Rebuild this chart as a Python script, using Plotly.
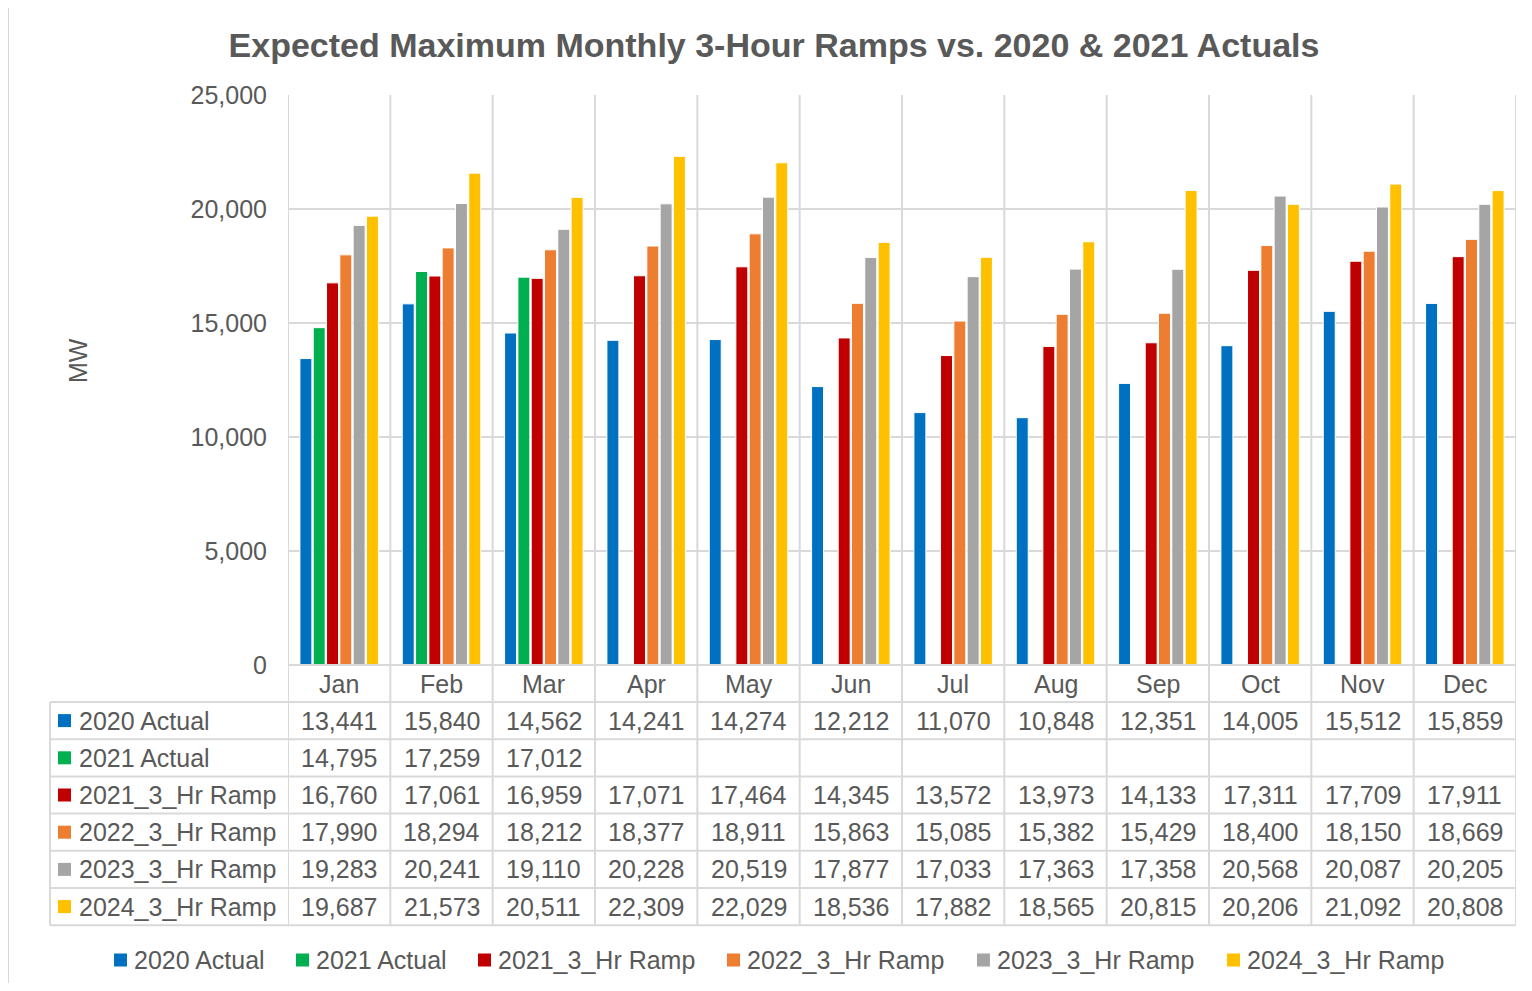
import plotly.graph_objects as go

months = ["Jan", "Feb", "Mar", "Apr", "May", "Jun", "Jul", "Aug", "Sep", "Oct", "Nov", "Dec"]
actual_2020 = [13441, 15840, 14562, 14241, 14274, 12212, 11070, 10848, 12351, 14005, 15512, 15859]
actual_2021 = [14795, 17259, 17012, None, None, None, None, None, None, None, None, None]
ramp_2021 = [16760, 17061, 16959, 17071, 17464, 14345, 13572, 13973, 14133, 17311, 17709, 17911]
ramp_2022 = [17990, 18294, 18212, 18377, 18911, 15863, 15085, 15382, 15429, 18400, 18150, 18669]
ramp_2023 = [19283, 20241, 19110, 20228, 20519, 17877, 17033, 17363, 17358, 20568, 20087, 20205]
ramp_2024 = [19687, 21573, 20511, 22309, 22029, 18536, 17882, 18565, 20815, 20206, 21092, 20808]

series_names = ["2020 Actual", "2021 Actual", "2021_3_Hr Ramp", "2022_3_Hr Ramp", "2023_3_Hr Ramp", "2024_3_Hr Ramp"]
series_values = [actual_2020, actual_2021, ramp_2021, ramp_2022, ramp_2023, ramp_2024]
colors = ["#0070C0", "#00B050", "#C00000", "#ED7D31", "#A5A5A5", "#FFC000"]

FONT = "Liberation Sans, Arial, sans-serif"
TXT = "#595959"
GRID = "#D9D9D9"

# page offset (body margin) and target page geometry
OFF = 8
FIG_W, FIG_H = 1532 - 2 * OFF, 991 - 2 * OFF
L, R, T, B = 288, 1516, 95, 665   # plot area in page pixels
W, H = R - L, B - T

def px(x):
    return (x - L) / W

def py(y):
    return (B - y) / H

fig = go.Figure()
for name, vals, col in zip(series_names, series_values, colors):
    fig.add_trace(go.Bar(x=months, y=vals, name=name, showlegend=False,
                         marker=dict(color=col, line=dict(color="white", width=1))))

shapes = []
annotations = []
row_top = 702
row_h = 37.2
n_rows = len(series_names)
table_bottom = row_top + row_h * n_rows

# vertical lines at category boundaries (plot + table)
for i in range(len(months) + 1):
    shapes.append(dict(type="line", xref="x", yref="paper", x0=i - 0.5, x1=i - 0.5,
                       y0=py(table_bottom), y1=1, line=dict(color=GRID, width=2), layer="below"))
# horizontal table lines
shapes.append(dict(type="line", xref="paper", yref="paper", x0=0, x1=1, y0=0, y1=0,
                   line=dict(color=GRID, width=2)))
for r in range(n_rows + 1):
    yy = py(row_top + row_h * r)
    shapes.append(dict(type="line", xref="paper", yref="paper", x0=px(50), x1=1, y0=yy, y1=yy,
                       line=dict(color=GRID, width=2)))
shapes.append(dict(type="line", xref="paper", yref="paper", x0=px(50), x1=px(50),
                   y0=py(row_top), y1=py(table_bottom), line=dict(color=GRID, width=2)))
# outer chart border (left and top edges visible)
shapes.append(dict(type="line", xref="paper", yref="paper", x0=px(8), x1=px(8),
                   y0=py(991), y1=py(7), line=dict(color=GRID, width=2)))
shapes.append(dict(type="line", xref="paper", yref="paper", x0=px(8), x1=px(1532),
                   y0=py(7), y1=py(7), line=dict(color=GRID, width=2)))

# month header
for m in months:
    annotations.append(dict(x=m, xref="x", y=py((B + row_top) / 2), yref="paper", text=m,
                            showarrow=False, font=dict(family=FONT, size=25, color=TXT),
                            xanchor="center", yanchor="middle"))
# table rows
for r, (name, vals, col) in enumerate(zip(series_names, series_values, colors)):
    ycp = row_top + row_h * r + row_h / 2
    yc = py(ycp)
    shapes.append(dict(type="rect", xref="paper", yref="paper", x0=px(58), x1=px(71),
                       y0=py(ycp + 6.5), y1=py(ycp - 6.5), fillcolor=col, line=dict(width=0)))
    annotations.append(dict(x=px(77), xref="paper", y=yc, yref="paper", text=name,
                            showarrow=False, font=dict(family=FONT, size=25, color=TXT),
                            xanchor="left", yanchor="middle"))
    for m, v in zip(months, vals):
        if v is None:
            continue
        annotations.append(dict(x=m, xref="x", y=yc, yref="paper", text=f"{v:,}",
                                showarrow=False, font=dict(family=FONT, size=25, color=TXT),
                                xanchor="center", yanchor="middle"))

# bottom legend (drawn manually to keep it on one line)
legend_x = [114, 296, 478, 727, 977, 1227]
legend_y = 960
for lx, name, col in zip(legend_x, series_names, colors):
    shapes.append(dict(type="rect", xref="paper", yref="paper", x0=px(lx), x1=px(lx + 13),
                       y0=py(legend_y + 6.5), y1=py(legend_y - 6.5), fillcolor=col,
                       line=dict(width=0)))
    annotations.append(dict(x=px(lx + 18), xref="paper", y=py(legend_y), yref="paper",
                            text=name, showarrow=False,
                            font=dict(family=FONT, size=25, color=TXT),
                            xanchor="left", yanchor="middle"))

# y-axis title
annotations.append(dict(x=px(78), xref="paper", y=py(361), yref="paper", text="MW",
                        textangle=-90, showarrow=False,
                        font=dict(family=FONT, size=25, color=TXT),
                        xanchor="center", yanchor="middle"))

fig.update_layout(
    width=FIG_W, height=FIG_H,
    paper_bgcolor="white", plot_bgcolor="white",
    margin=dict(l=L - OFF, r=(1532 - OFF) - R, t=T - OFF, b=(991 - OFF) - B, autoexpand=False),
    title=dict(text="<b>Expected Maximum Monthly 3-Hour Ramps vs. 2020 & 2021 Actuals</b>",
               x=(774 - OFF) / FIG_W, xref="container", xanchor="center",
               y=1 - (45 - OFF) / FIG_H, yref="container", yanchor="middle",
               font=dict(family=FONT, size=34, color=TXT)),
    barmode="group", bargap=0.22, bargroupgap=0.1,
    showlegend=False,
    xaxis=dict(range=[-0.5, 11.5], showticklabels=False, showgrid=False, zeroline=False,
               showline=False, ticks=""),
    yaxis=dict(range=[0, 25000], dtick=5000, tickformat=",", showgrid=True, gridcolor=GRID,
               gridwidth=2, zeroline=False, showline=False, ticks="",
               ticklabelstandoff=20,
               tickfont=dict(family=FONT, size=25, color=TXT)),
    shapes=shapes, annotations=annotations,
)

fig.write_html("out.html")
